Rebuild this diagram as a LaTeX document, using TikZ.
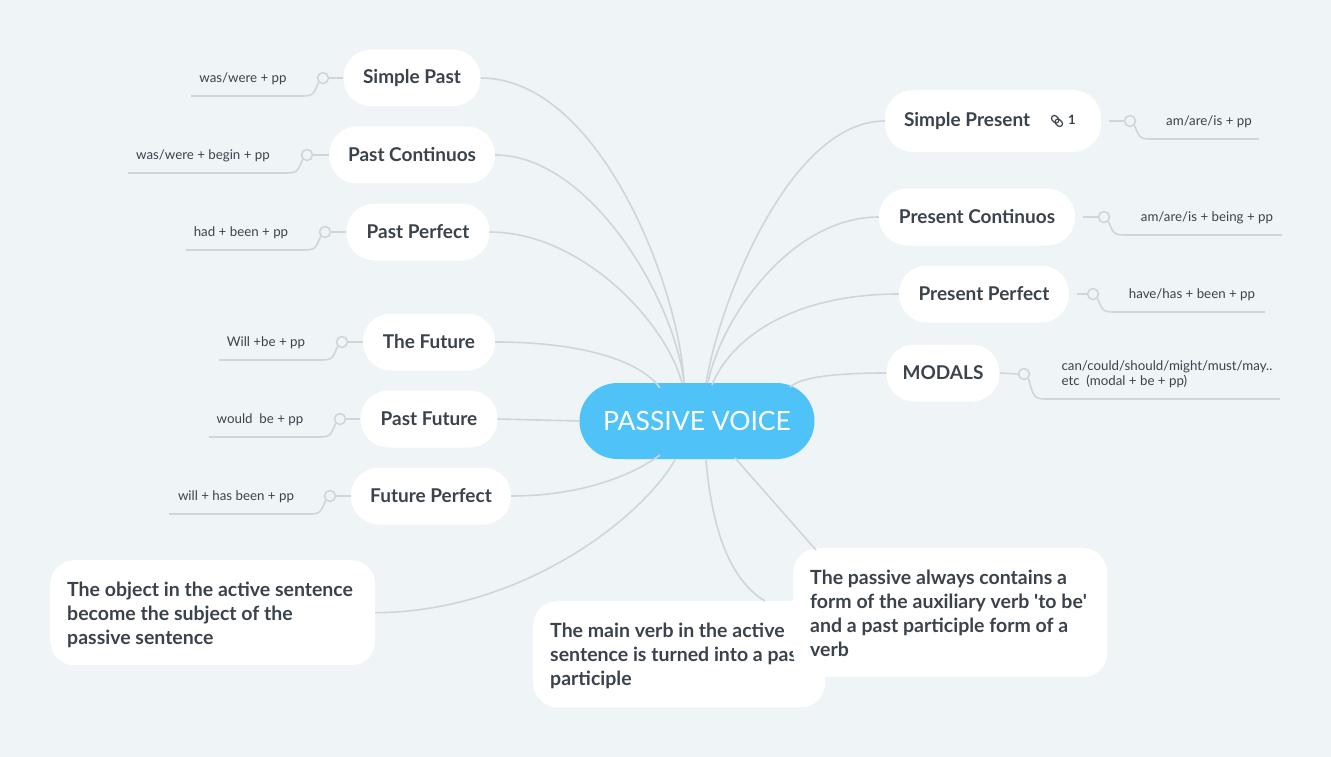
\documentclass[tikz,border=0pt]{standalone}
\usepackage{fontspec}
\setmainfont{Lato}
\begin{document}
\definecolor{bg}{HTML}{EFF4F7}
\definecolor{ln}{HTML}{D0D5D9}
\definecolor{tx}{HTML}{3A434B}
\definecolor{ctr}{HTML}{4FC3F7}
\begin{tikzpicture}[x=1pt,y=-1pt,
  pill/.style={draw=none,fill=white,rounded corners=28pt,minimum height=57pt,text=tx,font=\fontsize{19}{22}\selectfont\bfseries,anchor=center},
  box/.style={draw=none,fill=white,rounded corners=24pt,anchor=north west,inner sep=0pt},
  btxt/.style={text=tx,font=\fontsize{19.5}{24}\selectfont\bfseries,align=left,anchor=north west,inner sep=0pt},
  leaf/.style={text=tx,font=\fontsize{13.3}{15}\selectfont},
  dot/.style={circle,draw=ln,line width=1.6pt,fill=bg,minimum size=11pt,inner sep=0pt},
  con/.style={draw=ln,line width=1.6pt}]
\fill[bg] (0,0) rectangle (1331,757);
\useasboundingbox (0,0) rectangle (1331,757);

% nodes
\node[pill,minimum width=137pt] (sp) at (412,78) {Simple Past};
\node[pill,minimum width=166pt] (pc) at (412,155) {Past Continuos};
\node[pill,minimum width=143pt] (pp) at (418,232) {Past Perfect};
\node[pill,minimum width=132pt] (fu) at (429,342) {The Future};
\node[pill,minimum width=137pt] (pf) at (429,419) {Past Future};
\node[pill,minimum width=160pt] (fp) at (431,496) {Future Perfect};
\node[pill,minimum width=216pt,minimum height=62pt] (spr) at (993,121) {\makebox[178pt][l]{Simple Present}};
\node[pill,minimum width=196pt] (prc) at (977,217) {Present Continuos};
\node[pill,minimum width=170pt] (prp) at (984,294) {Present Perfect};
\node[pill,minimum width=113pt] (mod) at (943,373) {MODALS};
\node[fill=ctr,rounded corners=38pt,minimum width=235pt,minimum height=76pt,text=white,font=\fontsize{26.5}{30}\selectfont] (c) at (697,421) {PASSIVE VOICE};

% link icon
\begin{scope}[shift={(1057,121)},rotate=-45,line width=1.2pt,draw=tx]
\draw[rounded corners=2.5pt] (-6.5,-2.8) rectangle (1.5,2.8);
\draw[rounded corners=2.5pt] (-1.5,-2.8) rectangle (6.5,2.8);
\end{scope}
\node[text=tx,font=\fontsize{13}{15}\selectfont\bfseries] (one) at (1072,120) {1};

% connectors center
\coordinate (cl) at (684,383);
\coordinate (cr) at (706,383);
\draw[con] (sp.east) .. controls (600,78) and (680,290) .. (cl);
\draw[con] (pc.east) .. controls (590,155) and (675,300) .. (cl);
\draw[con] (pp.east) .. controls (580,232) and (665,320) .. (682,383);
\draw[con] (fu.east) .. controls (580,342) and (640,360) .. (660,388);
\draw[con] (pf.east) -- (c.west);
\draw[con] (fp.east) .. controls (590,496) and (640,470) .. (660,455);
\draw[con] (spr.west) .. controls (790,121) and (720,300) .. (cr);
\draw[con] (prc.west) .. controls (790,217) and (720,320) .. (708,383);
\draw[con] (prp.west) .. controls (790,294) and (730,340) .. (712,385);
\draw[con] (mod.west) .. controls (830,373) and (800,378) .. (790,387);

% leaves
\foreach \n/\dx/\lx/\ty/\txt/\tx in {
  sp/323/191/96/{was/were + pp}/243,
  pc/307/128/173/{was/were + begin + pp}/203,
  pp/325/186/250/{had + been + pp}/241,
  fu/342/219/360/{Will +be + pp}/266,
  pf/340/209/437/{would\ \ be + pp}/260,
  fp/330/169/514/{will + has been + pp}/236}{
  \node[dot] (\n-d) at (\dx,\ty-18) {};
  \draw[con] (\n.west) -- (\n-d.east);
  \coordinate (\n-e) at (\lx,\ty);
  \draw[con] (\n-d.south west) .. controls (\dx-10,\ty) .. (\dx-25,\ty) -- (\n-e);
  \node[leaf] (\n-t) at (\tx,\ty-17) {\txt};
}
\foreach \n/\dx/\lx/\ty/\txt/\tx in {
  spr/1130/1259/139/{am/are/is + pp}/1209,
  prc/1104/1282/235/{am/are/is + being + pp}/1207,
  prp/1093/1265/312/{have/has + been + pp}/1192}{
  \node[dot] (\n-d) at (\dx,\ty-18) {};
  \draw[con] ([xshift=8pt]\n.east) -- (\n-d.west);
  \coordinate (\n-e) at (\lx,\ty);
  \draw[con] (\n-d.south east) .. controls (\dx+10,\ty) .. (\dx+25,\ty) -- (\n-e);
  \node[leaf] (\n-t) at (\tx,\ty-17) {\txt};
}
\node[dot] (mod-d) at (1024,374) {};
\draw[con] (mod.east) -- (mod-d.west);
\coordinate (mod-e) at (1280,399);
\draw[con] (mod-d.south east) .. controls (1034,399) .. (1050,399) -- (mod-e);
\node[leaf,anchor=west,align=left,font=\fontsize{13.3}{15.5}\selectfont] (mod-t) at (1058,374) {can/could/should/might/must/may..\\etc\ \ (modal + be + pp)};

% boxes
\node[box,minimum width=325pt,minimum height=105pt] (ob) at (50,560) {};
\node[btxt] (obt) at (67,582) {The object in the active sentence\\become the subject of the\\passive sentence};
\node[box,minimum width=292pt,minimum height=106pt] (mv) at (533,601) {};
\node[btxt] (mvt) at (550,623) {The main verb in the active\\sentence is turned into a past\\participle};
\node[box,minimum width=314pt,minimum height=129pt] (pa) at (793,548) {};
\node[btxt] (pat) at (810,570) {The passive always contains a\\form of the auxiliary verb \textquotesingle to be\textquotesingle\\and a past participle form of a\\verb};

\draw[con] (ob.east) .. controls (520,612) and (640,520) .. (675,460);
\draw[con] (706,460) .. controls (712,530) and (730,580) .. (765,601);
\draw[con] (735,458) -- (816,550);
\end{tikzpicture}
\end{document}
